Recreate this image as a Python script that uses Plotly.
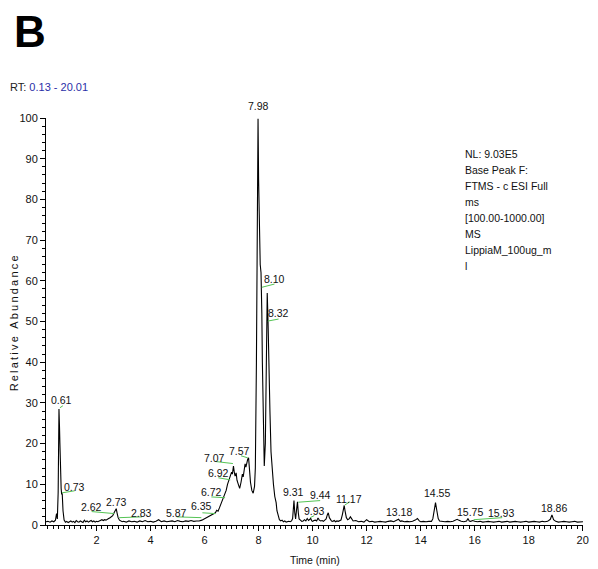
import plotly.graph_objects as go

# ---------------- data ----------------
time_min = [
    0.13, 0.20, 0.28, 0.35, 0.42, 0.48, 0.52, 0.55, 0.58, 0.61, 0.63, 0.645, 0.66, 0.69, 0.71, 0.73, 0.76, 0.80,
    0.85, 0.90, 0.95, 1.00, 1.05, 1.10, 1.15, 1.20, 1.25, 1.30, 1.35, 1.40, 1.45, 1.50, 1.55, 1.60, 1.65, 1.70,
    1.75, 1.80, 1.85, 1.90, 1.95, 2.00, 2.05, 2.10, 2.15, 2.20, 2.25, 2.30, 2.35, 2.40, 2.45, 2.50, 2.55, 2.60,
    2.65, 2.70, 2.73, 2.76, 2.80, 2.85, 2.90, 2.95,
    3.00, 3.10, 3.20, 3.30, 3.40, 3.50, 3.60, 3.70, 3.80, 3.90, 4.00, 4.10, 4.20, 4.30, 4.40, 4.50, 4.60, 4.70,
    4.80, 4.90, 5.00, 5.10, 5.20, 5.30, 5.40, 5.50, 5.60, 5.70, 5.80, 5.90, 6.00, 6.10, 6.20, 6.30, 6.35, 6.40,
    6.45, 6.50, 6.55, 6.60, 6.65, 6.70, 6.75, 6.80, 6.85, 6.90, 6.95, 7.00, 7.03, 7.07, 7.10, 7.13, 7.17, 7.20,
    7.25, 7.30, 7.35, 7.40, 7.43, 7.47, 7.50, 7.53, 7.57, 7.60, 7.63, 7.67, 7.70, 7.75, 7.80, 7.85, 7.88, 7.92,
    7.95, 7.98, 8.00, 8.03, 8.06, 8.09, 8.11, 8.12, 8.14, 8.17, 8.21, 8.25, 8.29, 8.32, 8.35, 8.38, 8.42, 8.46,
    8.50, 8.55, 8.60, 8.65, 8.68, 8.72, 8.77, 8.82, 8.87, 8.92, 8.97, 9.02, 9.07, 9.12, 9.17, 9.22, 9.26, 9.29,
    9.31, 9.34, 9.37, 9.41, 9.44, 9.47, 9.50, 9.55, 9.60, 9.65, 9.70, 9.75, 9.80, 9.85, 9.90, 9.93, 9.97, 10.00,
    10.05, 10.10, 10.15, 10.20, 10.25, 10.30, 10.35, 10.40, 10.45, 10.50, 10.55, 10.58, 10.62, 10.67, 10.70,
    10.75, 10.80, 10.85, 10.90, 10.95, 11.00, 11.05, 11.10, 11.14, 11.17, 11.20, 11.25, 11.30, 11.35, 11.40,
    11.45, 11.50, 11.60, 11.70, 11.80, 11.90, 12.00, 12.10, 12.20, 12.30, 12.40, 12.50, 12.60, 12.70, 12.80,
    12.90, 13.00, 13.10, 13.18, 13.25, 13.30, 13.40, 13.50, 13.60, 13.70, 13.80, 13.88, 13.95, 14.00, 14.10,
    14.20, 14.30, 14.40, 14.45, 14.50, 14.55, 14.60, 14.65, 14.70, 14.80, 14.90, 15.00, 15.10, 15.20, 15.30,
    15.35, 15.40, 15.45, 15.50, 15.60, 15.70, 15.75, 15.80, 15.85, 15.93, 16.00, 16.10, 16.20, 16.30, 16.40,
    16.50, 16.60, 16.70, 16.80, 16.90, 17.00, 17.10, 17.20, 17.30, 17.40, 17.50, 17.60, 17.70, 17.80, 17.90,
    18.00, 18.10, 18.20, 18.30, 18.40, 18.50, 18.60, 18.70, 18.80, 18.86, 18.92, 19.00, 19.10, 19.20, 19.30,
    19.40, 19.50, 19.60, 19.70, 19.80, 19.90, 20.01,
]
rel_abund = [
    0.8, 0.9, 0.7, 1.0, 0.8, 1.2, 2.8, 1.5, 8.0, 28.5, 24.0, 20.0, 14.0, 9.0, 7.5, 7.8, 3.5, 1.2,
    0.7, 0.9, 0.6, 0.8, 1.0, 0.7, 0.9, 0.6, 1.1, 0.8, 0.7, 1.0, 0.8, 0.6, 1.2, 0.8, 1.0, 0.7,
    0.9, 1.1, 0.8, 1.0, 0.7, 0.9, 0.8, 1.0, 1.0, 1.3, 1.1, 1.3, 1.2, 1.5, 1.6, 1.8, 2.0, 2.3,
    3.0, 3.6, 4.0, 3.0, 1.8, 1.2, 1.0, 0.8,
    0.9, 0.7, 1.0, 0.8, 0.9, 0.7, 1.0, 0.8, 1.1, 0.8, 0.9, 0.7, 0.9, 1.3, 0.8, 1.0, 0.8, 0.9,
    1.0, 0.8, 1.1, 0.9, 0.8, 1.0, 0.9, 1.1, 0.9, 1.0, 1.0, 1.2, 1.6, 1.9, 2.3, 2.6, 2.8, 3.0,
    3.6, 3.4, 4.2, 5.0, 5.8, 6.5, 7.5, 8.5, 10.0, 11.0, 12.0, 13.0, 12.5, 14.5, 13.0, 12.0, 12.8, 11.0,
    10.0, 9.0, 10.5, 12.5, 11.8, 14.0, 15.0, 14.2, 15.8, 16.2, 16.5, 13.0, 10.5, 8.5, 7.8, 9.5, 14.0, 40.0,
    75.0, 99.8, 85.0, 70.0, 64.0, 62.0, 58.0, 52.0, 40.0, 25.0, 14.5, 20.0, 45.0, 57.0, 50.0, 38.0, 28.0, 18.0,
    13.0, 10.0, 7.0, 5.5, 3.5, 2.5, 1.3, 1.0, 1.2, 0.8, 1.0, 0.7, 0.8, 0.9, 0.8, 1.0, 1.6, 5.0,
    6.0, 3.0, 1.5, 4.0, 5.7, 3.0, 1.5, 1.2, 0.9, 1.0, 1.3, 1.0, 1.6, 1.1, 1.3, 1.6, 1.0, 0.9,
    1.1, 1.2, 1.0, 1.7, 1.2, 1.0, 1.1, 0.9, 1.2, 1.5, 2.6, 3.0, 1.8, 1.2, 1.0,
    0.9, 1.1, 0.8, 1.0, 0.9, 1.0, 1.2, 2.5, 4.5, 4.8, 3.5, 1.8, 1.3, 1.5, 2.0,
    1.3, 1.0, 1.1, 0.8, 0.9, 0.7, 1.3, 0.8, 0.9, 0.7, 0.8, 0.9, 0.8, 0.7, 0.9,
    1.0, 0.8, 1.1, 1.4, 0.9, 1.0, 0.8, 0.9, 0.8, 0.9, 1.2, 1.6, 1.0, 0.8, 0.9,
    0.8, 0.9, 0.9, 1.5, 4.0, 5.5, 3.5, 1.6, 1.0, 0.9, 0.8, 0.9, 0.8, 0.9, 1.2,
    1.4, 1.2, 1.0, 0.9, 0.8, 1.0, 1.6, 1.0, 0.9, 1.1, 0.9, 0.8, 0.9, 0.7, 0.8,
    0.9, 0.8, 0.7, 0.8, 0.9, 0.7, 0.8, 0.9, 0.7, 0.8, 0.9, 0.8, 0.7, 0.8, 0.9,
    0.7, 0.8, 0.9, 0.8, 0.7, 0.9, 0.8, 0.9, 1.4, 2.5, 1.3, 0.9, 0.7, 0.8, 0.9,
    0.8, 0.7, 0.8, 0.9, 0.7, 0.8, 0.8,
]

peak_labels = ["0.61", "0.73", "2.62", "2.73", "2.83", "5.87", "6.35", "6.72", "6.92", "7.07",
               "7.57", "7.98", "8.10", "8.32", "9.31", "9.44", "9.93", "11.17", "13.18", "14.55",
               "15.75", "15.93", "18.86"]

y_ticks = [0, 10, 20, 30, 40, 50, 60, 70, 80, 90, 100]
x_ticks = [2, 4, 6, 8, 10, 12, 14, 16, 18, 20]

info_lines = ["NL: 9.03E5", "Base Peak F:", "FTMS - c ESI Full", "ms",
              "[100.00-1000.00]", "MS", "LippiaM_100ug_m", "l"]

# ---------------- label placement (layout, not data) ----------------
label_pos = {
    "0.61": (0.70, 30.6), "0.73": (1.19, 9.4), "2.62": (1.82, 4.5), "2.73": (2.73, 5.7),
    "2.83": (3.68, 3.0), "5.87": (4.97, 3.0), "6.35": (5.88, 4.7), "6.72": (6.25, 8.2),
    "6.92": (6.50, 12.8), "7.07": (6.36, 16.5), "7.57": (7.31, 18.2), "7.98": (8.00, 100.0),
    "8.10": (8.59, 60.4), "8.32": (8.74, 52.1), "9.31": (9.29, 8.2), "9.44": (10.28, 7.4),
    "9.93": (10.06, 3.5), "11.17": (11.34, 6.5), "13.18": (13.21, 3.3), "14.55": (14.60, 7.9),
    "15.75": (15.81, 3.3), "15.93": (16.98, 3.0), "18.86": (18.92, 4.2),
}
leaders = {
    "0.61": ((0.645, 28.8), (0.755, 29.3)), "0.73": ((0.72, 7.9), (1.19, 8.4)),
    "2.62": ((1.82, 3.3), (2.66, 2.8)), "2.83": ((2.84, 1.8), (3.68, 2.0)),
    "5.87": ((4.97, 2.0), (5.88, 1.8)), "6.35": ((5.92, 3.0), (6.40, 2.8)),
    "6.72": ((6.25, 6.9), (6.76, 6.7)), "6.92": ((6.51, 11.6), (6.95, 11.1)),
    "7.07": ((6.40, 15.6), (7.05, 15.1)), "7.57": ((7.35, 17.0), (7.60, 16.5)),
    "8.10": ((8.12, 58.4), (8.59, 59.2)), "8.32": ((8.34, 50.1), (8.74, 50.6)),
    "9.44": ((9.47, 5.6), (10.28, 6.0)), "9.93": ((9.91, 1.8), (10.06, 2.3)),
    "11.17": ((11.19, 4.9), (11.38, 5.7)), "15.93": ((15.96, 1.3), (17.02, 1.8)),
}

FONT = "Liberation Sans, Arial, sans-serif"
W, H = 598, 569
ML, MR, MT, MB = 46, 9, 118, 44
PW, PH = W - ML - MR, H - MT - MB


def px(x):
    return (x - ML) / PW


def py(y):
    return (MT + PH - y) / PH


fig = go.Figure()
fig.add_trace(go.Scatter(x=time_min, y=rel_abund, mode="lines",
                         line=dict(color="black", width=1.1), hoverinfo="skip",
                         cliponaxis=False, showlegend=False))

annotations = []
for lab in peak_labels:
    x, y = label_pos[lab]
    if lab == "7.98":
        annotations.append(dict(x=x, y=y, xref="x", yref="y", text=lab, showarrow=False,
                                yanchor="bottom", yshift=4, font=dict(family=FONT, size=10.5, color="#111")))
    else:
        annotations.append(dict(x=x, y=y, xref="x", yref="y", text=lab, showarrow=False,
                                font=dict(family=FONT, size=10.5, color="#111")))

shapes = []
for lab, ((x0, y0), (x1, y1)) in leaders.items():
    shapes.append(dict(type="line", xref="x", yref="y", x0=x0, y0=y0, x1=x1, y1=y1,
                       line=dict(color="#55c455", width=1)))

# decorative texts
annotations.append(dict(x=px(12), y=py(31), xref="paper", yref="paper", text="<b>B</b>",
                        showarrow=False, xanchor="left", yanchor="middle",
                        font=dict(family=FONT, size=44, color="black")))
annotations.append(dict(x=px(8), y=py(87), xref="paper", yref="paper",
                        text='RT: <span style="color:#2b2fa8">0.13 - 20.01</span>',
                        showarrow=False, xanchor="left", yanchor="middle",
                        font=dict(family=FONT, size=11, color="#222")))
for i, line in enumerate(info_lines):
    annotations.append(dict(x=px(468), y=py(154 + 16 * i), xref="paper", yref="paper", text=line,
                            showarrow=False, xanchor="left", yanchor="middle",
                            font=dict(family=FONT, size=10.5, color="#111")))
annotations.append(dict(x=px(14), y=py(323), xref="paper", yref="paper",
                        text="\u2009".join("Relative Abundance"), textangle=-90,
                        showarrow=False, xanchor="center", yanchor="middle",
                        font=dict(family=FONT, size=11, color="#111")))
annotations.append(dict(x=px(318), y=py(560), xref="paper", yref="paper", text="Time (min)",
                        showarrow=False, xanchor="center", yanchor="middle",
                        font=dict(family=FONT, size=10.5, color="#111")))

fig.update_layout(
    width=W, height=H, margin=dict(l=ML, r=MR, t=MT, b=MB, pad=0),
    paper_bgcolor="white", plot_bgcolor="white",
    font=dict(family=FONT, size=11, color="#111"),
    annotations=annotations, shapes=shapes, showlegend=False,
    xaxis=dict(range=[0.13, 20.01], tickvals=x_ticks, ticks="outside", ticklen=5, tickwidth=1,
               tickcolor="black", showline=True, linecolor="black", linewidth=1, showgrid=False,
               zeroline=False, tickfont=dict(family=FONT, size=11, color="#111"),
               minor=dict(dtick=0.2, tick0=0, ticks="outside", ticklen=3, tickcolor="black", showgrid=False)),
    yaxis=dict(range=[0, 100], tickvals=y_ticks, ticks="outside", ticklen=5, tickwidth=1,
               tickcolor="black", showline=True, linecolor="black", linewidth=1, showgrid=False,
               zeroline=False, tickfont=dict(family=FONT, size=11, color="#111"),
               minor=dict(dtick=2, tick0=0, ticks="outside", ticklen=3, tickcolor="black", showgrid=False)),
)

fig.write_html("out.html")
